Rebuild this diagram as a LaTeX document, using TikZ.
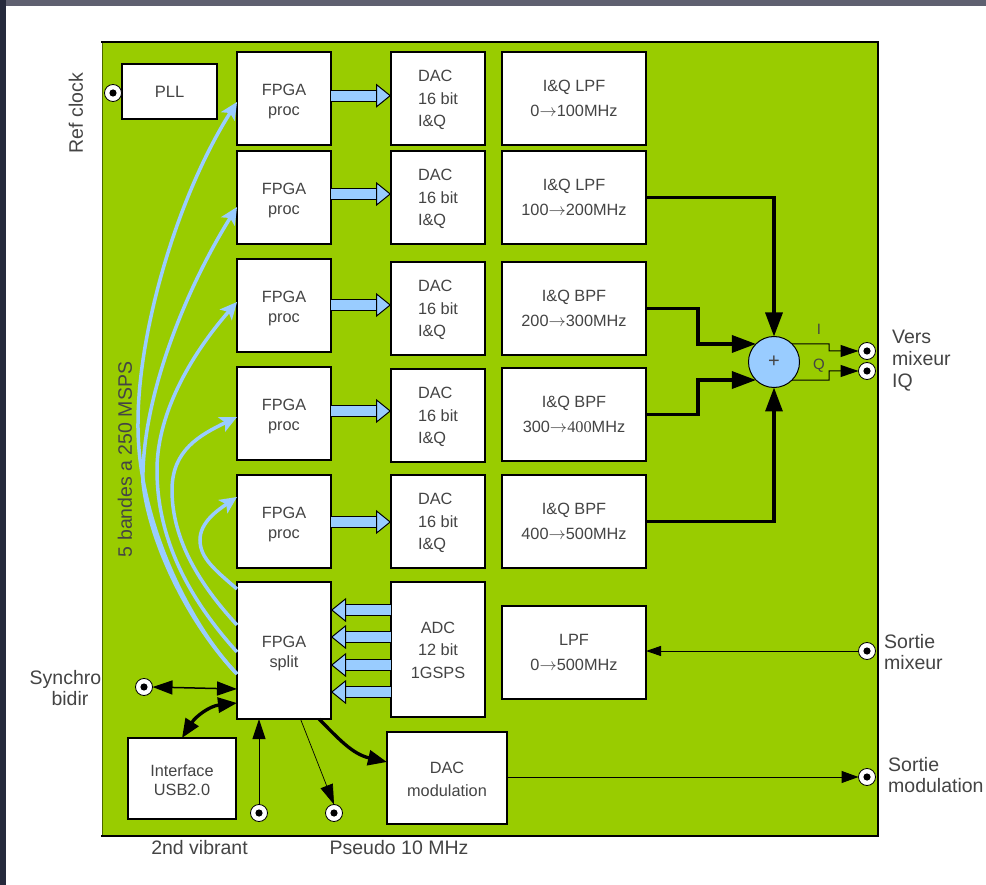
\documentclass[tikz,border=0pt]{standalone}
\usepackage{fontspec}
\setmainfont{Liberation Sans}
\newfontfamily\numserif{Liberation Serif}
\newcommand{\myarr}{\ensuremath{\rightarrow}}
\newcommand{\tallline}[1]{\rule{0pt}{#1pt}}
\usetikzlibrary{arrows.meta}
\definecolor{pcb}{HTML}{99CC00}
\definecolor{blu}{HTML}{99CCFF}
\definecolor{txt}{HTML}{444444}
\definecolor{topband}{HTML}{5F6070}
\definecolor{leftband}{HTML}{262A3C}
\tikzset{
  boxbase/.style={draw=black,fill=white,line width=2pt,text=txt,align=center,inner sep=0pt,outer sep=0pt},
  fpgabox/.style={boxbase,minimum width=94pt,minimum height=93pt,font=\fontsize{16.3}{19.5}\selectfont},
  dacbox/.style={boxbase,minimum width=94pt,minimum height=93pt,font=\fontsize{16.3}{22.5}\selectfont},
  lpfbox/.style={boxbase,minimum width=144pt,minimum height=93pt,font=\fontsize{16.3}{24.5}\selectfont},
  port/.style={circle,draw=black,fill=white,line width=0.8pt,minimum size=17pt,inner sep=0pt,outer sep=0pt,
    path picture={\fill[black] (path picture bounding box.center) circle (3.6pt);}},
  blockarrow/.style={draw=black,line width=1pt,double=blu,double distance=10pt,
    -{Triangle[length=15pt,width=24pt,fill=blu,line width=1pt]}},
  bluecurve/.style={draw=blu,line width=3.5pt,-{Stealth[length=17pt,width=16pt,inset=4pt]}},
  thickline/.style={line width=3.3pt,line join=miter,-{Triangle[length=24pt,width=17pt]}},
  thinline/.style={line width=1pt,-{Triangle[length=18pt,width=12pt]}},
  outer/.style={text=txt,font=\fontsize{19.5}{21.8}\selectfont,inner sep=0pt,align=left},
}
\begin{document}
\begin{tikzpicture}[x=1pt,y=-1pt]
\useasboundingbox (0,0) rectangle (986,885);
% page frame
\fill[white] (0,0) rectangle (986,885);
\fill[topband] (0,0) rectangle (986,6);
\fill[leftband] (0,0) rectangle (6,885);
% board
\fill[pcb] (102,42) rectangle (878,836);
\draw[line width=1pt,draw=pcb!50!black] (102,42) -- (102,836);
\draw[line width=2pt,line cap=rect] (102,42) -- (878,42) -- (878,836) -- (102,836);
% boxes
\node[boxbase,minimum width=95pt,minimum height=55pt,font=\fontsize{16.5}{19}\selectfont] (pll) at (169.5,91.5) {PLL};
\foreach \n/\y in {1/98.5,2/197.5,3/305.5,4/413.5,5/521.5}{
  \node[fpgabox] (fp\n) at (284,\y) {\tallline{17}FPGA\\proc};
}
\node[dacbox,align=left] (dac1) at (438,98.5) {\tallline{15}DAC\\16 bit\\I\&Q};
\node[dacbox,align=left] (dac2) at (438,197.5) {\tallline{15}DAC\\16 bit\\I\&Q};
\node[dacbox,align=left] (dac3) at (438,308.5) {\tallline{15}DAC\\16 bit\\I\&Q};
\node[dacbox,align=left] (dac4) at (438,415.5) {\tallline{15}DAC\\16 bit\\I\&Q};
\node[dacbox,align=left] (dac5) at (438,521.5) {\tallline{15}DAC\\16 bit\\I\&Q};
\node[lpfbox] (lpf1) at (574,98.5) {I\&Q LPF\\0\myarr100MHz};
\node[lpfbox] (lpf2) at (574,197.5) {I\&Q LPF\\100\myarr200MHz};
\node[lpfbox] (lpf3) at (574,308.5) {I\&Q BPF\\200\myarr300MHz};
\node[lpfbox] (lpf4) at (574,414.5) {I\&Q BPF\\300\myarr{\numserif 400}MHz};
\node[lpfbox] (lpf5) at (574,521.5) {I\&Q BPF\\400\myarr500MHz};
\node[lpfbox] (lpf6) at (574,652.5) {LPF\\0\myarr500MHz};
\node[fpgabox,minimum height=137pt] (split) at (284,650.5) {\tallline{17}FPGA\\split};
\node[dacbox,minimum height=135pt] (adc) at (438,649.5) {\tallline{13}ADC\\12 bit\\1GSPS};
\node[dacbox,minimum width=120pt,minimum height=92pt] (dacm) at (447,778) {\tallline{14}DAC\\modulation};
\node[fpgabox,minimum width=108pt,minimum height=81pt] (usb) at (182,778.5) {\tallline{15}Interface\\USB2.0};
% summing junction
\node[circle,draw=black,fill=blu,line width=1pt,minimum size=51pt,inner sep=0pt,outer sep=0pt,text=txt,font=\fontsize{20}{20}\selectfont] (sum) at (774,362) {+};
% ports
\node[port] (pref) at (113,93) {};
\node[port] (psync) at (144,687) {};
\node[port] (pvib) at (259,813) {};
\node[port] (ppse) at (334,813) {};
\node[port] (pi) at (867,351) {};
\node[port] (pq) at (867,371) {};
\node[port] (pmix) at (867,651) {};
\node[port] (pmod) at (867,777) {};
% block arrows
\foreach \n/\y in {1/95.7,2/194,3/305,4/411,5/522}{
  \draw[blockarrow] (fp\n.east |- 0,\y) -- (dac\n.west |- 0,\y);
}
\foreach \y in {610,637,665,692}{
  \draw[blockarrow] (adc.west |- 0,\y) -- (split.east |- 0,\y);
}
% blue curves
\draw[bluecurve] (split.west |- 0,674) .. controls (190,625) and (137,520) .. (138,423) .. controls (138,330) and (178,195) .. (fp1.west |- 0,102);
\draw[bluecurve] (split.west |- 0,674) .. controls (190,625) and (150,545) .. (143,483) .. controls (141,400) and (185,290) .. (fp2.west |- 0,207);
\draw[bluecurve] (split.west |- 0,652) .. controls (190,600) and (157,540) .. (157,470) .. controls (157,410) and (195,350) .. (fp3.west |- 0,302);
\draw[bluecurve] (split.west |- 0,625) .. controls (200,585) and (172,540) .. (172,490) .. controls (172,450) and (200,435) .. (fp4.west |- 0,417);
\draw[bluecurve] (split.west |- 0,589) .. controls (215,570) and (200,558) .. (200,540) .. controls (200,522) and (218,510) .. (fp5.west |- 0,497);
% thick connectors
\draw[thickline] (lpf2.east) -| (sum.north);
\draw[thickline] (lpf3.east) -- ++(52,0) |- (sum.135);
\draw[thickline] (lpf4.east) -- ++(52,0) |- (sum.225);
\draw[thickline] (lpf5.east) -| (sum.south);
% I / Q outputs
\draw[thinline] (sum.45) -- (829,343.8) -- (829,351) -- (pi.west);
\draw[thinline] (sum.-45) -- (829,380.2) -- (829,371) -- (pq.west);
\node[text=txt,font=\fontsize{15}{15}\selectfont] (ilabel) at (819,329) {I};
\node[text=txt,font=\fontsize{15}{15}\selectfont] (qlabel) at (819,366) {Q};
% other connectors
\draw[line width=1.5pt,{Triangle[length=20pt,width=14pt]}-{Triangle[length=20pt,width=14pt]}] (psync.east) -- (split.west |- 0,689);
\draw[line width=3.3pt,{Triangle[length=19pt,width=15pt]}-{Triangle[length=19pt,width=15pt]}] (split.west |- 0,703) .. controls (210,706) and (196,716) .. (usb.north);
\draw[line width=1pt,-{Triangle[length=20pt,width=13pt]}] (pvib.north) -- (split.south -| pvib);
\draw[line width=0.7pt,-{Triangle[length=20pt,width=13pt]}] (300.5,719) -- (ppse.north);
\draw[line width=3.3pt,-{Triangle[length=19pt,width=15pt]}] (319,719) .. controls (338,738) and (352,754) .. (dacm.west |- 0,762);
\draw[line width=1pt,-{Triangle[length=15pt,width=10pt]}] (pmix.west) -- (lpf6.east |- pmix.west);
\draw[line width=1pt,-{Triangle[length=17pt,width=12pt]}] (dacm.east |- pmod.west) -- (pmod.west);
% outer labels
\node[outer,rotate=90] (lref) at (76,113) {Ref clock};
\node[outer,rotate=90] (lbands) at (125,459.5) {5 bandes a 250 MSPS};
\node[outer,anchor=center] (lsync) at (65.5,679) {Synchro};
\node[outer,anchor=center] (lbidir) at (70,699) {bidir};
\node[outer,anchor=west] (lvers) at (892,360.5) {Vers\\mixeur\\IQ};
\node[outer,anchor=west] (lsmix) at (884,652) {Sortie\\mixeur};
\node[outer,anchor=west] (lsmod) at (888,775) {Sortie\\modulation};
\node[outer] (lvib) at (199.5,848) {2nd vibrant};
\node[outer] (lpse) at (399,848) {Pseudo 10 MHz};
\end{tikzpicture}
\end{document}
